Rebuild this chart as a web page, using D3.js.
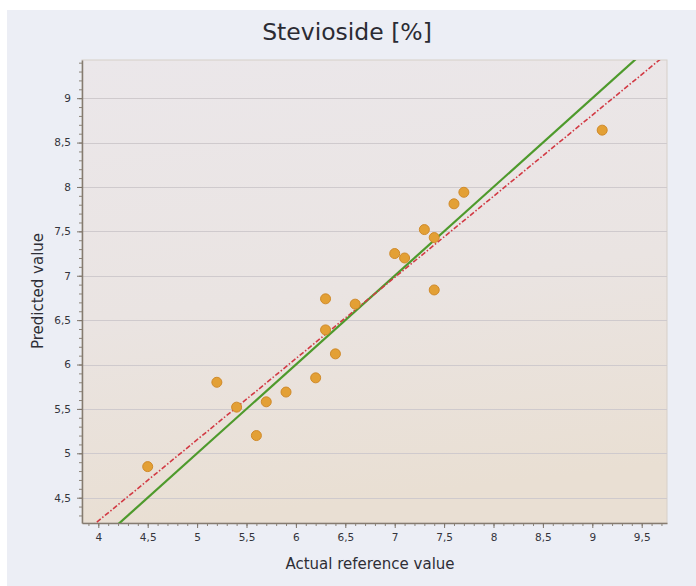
<!DOCTYPE html>
<html>
<head>
<meta charset="utf-8">
<script src="https://cdn.jsdelivr.net/npm/d3@7"></script>
<style>
  html, body { margin: 0; padding: 0; background: #ffffff; }
  svg { display: block; }
</style>
</head>
<body>
<script>
// Reference (actual) vs. predicted stevioside content, one entry per sample
const actualValues    = [4.5, 5.2, 5.4, 5.6, 5.7, 5.9, 6.2, 6.3, 6.3, 6.4, 6.6, 7.0, 7.1, 7.3, 7.4, 7.4, 7.6, 7.7, 9.1];
const predictedValues = [4.85, 5.8, 5.52, 5.2, 5.58, 5.69, 5.85, 6.39, 6.74, 6.12, 6.68, 7.25, 7.2, 7.52, 7.43, 6.84, 7.81, 7.94, 8.64];

// Axis ranges and tick marks
const xDomain = [3.835, 9.756];
const yDomain = [4.215, 9.43];
const xTicks = [4, 4.5, 5, 5.5, 6, 6.5, 7, 7.5, 8, 8.5, 9, 9.5];
const yTicks = [4.5, 5, 5.5, 6, 6.5, 7, 7.5, 8, 8.5, 9];
const decimalComma = v => String(v).replace(".", ",");

const chartTitle = "Stevioside [%]";
const xTitle = "Actual reference value";
const yTitle = "Predicted value";

const W = 696, H = 586;
const plot = { left: 82, right: 667, top: 60, bottom: 523 };

const svg = d3.select("body").append("svg")
  .attr("width", W).attr("height", H)
  .style("font-family", "'DejaVu Sans', Verdana, sans-serif");

// Page background
svg.append("rect").attr("x", 0).attr("y", 0).attr("width", W).attr("height", H).attr("fill", "#ffffff");
svg.append("rect").attr("x", 7).attr("y", 10).attr("width", W - 7).attr("height", H - 10).attr("fill", "#eceef5");

const defs = svg.append("defs");
const grad = defs.append("linearGradient").attr("id", "plotBg")
  .attr("x1", 0).attr("y1", 0).attr("x2", 0.15).attr("y2", 1);
grad.append("stop").attr("offset", "0%").attr("stop-color", "#ebe7ea");
grad.append("stop").attr("offset", "55%").attr("stop-color", "#eae4e2");
grad.append("stop").attr("offset", "100%").attr("stop-color", "#e9dfd3");

const clip = defs.append("clipPath").attr("id", "plotClip");
clip.append("rect").attr("x", plot.left).attr("y", plot.top)
  .attr("width", plot.right - plot.left).attr("height", plot.bottom - plot.top);

const x = d3.scaleLinear().domain(xDomain).range([plot.left, plot.right]);
const y = d3.scaleLinear().domain(yDomain).range([plot.bottom, plot.top]);

// Plot area
svg.append("rect")
  .attr("x", plot.left).attr("y", plot.top)
  .attr("width", plot.right - plot.left).attr("height", plot.bottom - plot.top)
  .attr("fill", "url(#plotBg)")
  .attr("stroke", "#d6cfc8").attr("stroke-width", 1);

// Horizontal gridlines
svg.append("g").selectAll("line").data(yTicks).join("line")
  .attr("x1", plot.left).attr("x2", plot.right)
  .attr("y1", d => Math.round(y(d)) + 0.5).attr("y2", d => Math.round(y(d)) + 0.5)
  .attr("stroke", "#cfcacd").attr("stroke-width", 1);

// Minor ticks every 0.1
const xMinor = d3.range(38, 98).map(i => i / 10).filter(v => v >= xDomain[0] && v <= xDomain[1]);
const yMinor = d3.range(43, 95).map(i => i / 10).filter(v => v >= yDomain[0] && v <= yDomain[1]);

const xAxis = d3.axisBottom(x).tickValues(xTicks).tickFormat(decimalComma).tickSize(5).tickPadding(6);
const yAxis = d3.axisLeft(y).tickValues(yTicks).tickFormat(decimalComma).tickSize(5).tickPadding(6);

const gxMinor = svg.append("g").attr("transform", `translate(0,${plot.bottom})`)
  .call(d3.axisBottom(x).tickValues(xMinor).tickFormat("").tickSize(3).tickSizeOuter(0));
const gyMinor = svg.append("g").attr("transform", `translate(${plot.left},0)`)
  .call(d3.axisLeft(y).tickValues(yMinor).tickFormat("").tickSize(3).tickSizeOuter(0));
[gxMinor, gyMinor].forEach(g => {
  g.select(".domain").remove();
  g.selectAll("line").attr("stroke", "#8c8479");
});

const gx = svg.append("g").attr("transform", `translate(0,${plot.bottom})`).call(xAxis.tickSizeOuter(0));
const gy = svg.append("g").attr("transform", `translate(${plot.left},0)`).call(yAxis.tickSizeOuter(0));
[gx, gy].forEach(g => {
  g.select(".domain").attr("stroke", "#857b70").attr("stroke-width", 1.5);
  g.selectAll(".tick line").attr("stroke", "#7d746a");
  g.selectAll(".tick text")
    .attr("fill", "#34343c")
    .style("font-size", "10.5px")
    .style("font-family", "'DejaVu Sans', Verdana, sans-serif");
});

// Lines: target (y = x) and least-squares fit of predicted on actual
const meanX = d3.mean(actualValues), meanY = d3.mean(predictedValues);
const sxy = d3.sum(actualValues, (v, i) => (v - meanX) * (predictedValues[i] - meanY));
const sxx = d3.sum(actualValues, v => (v - meanX) ** 2);
const slope = sxy / sxx;
const intercept = meanY - slope * meanX;

const lineGen = d3.line().x(d => x(d[0])).y(d => y(d[1]));
const lines = svg.append("g").attr("clip-path", "url(#plotClip)");

lines.append("path")
  .datum([[3, 3], [10, 10]])
  .attr("d", lineGen)
  .attr("fill", "none")
  .attr("stroke", "#4e9a2c")
  .attr("stroke-width", 2.2);

lines.append("path")
  .datum([[3, intercept + slope * 3], [10.5, intercept + slope * 10.5]])
  .attr("d", lineGen)
  .attr("fill", "none")
  .attr("stroke", "#d23a44")
  .attr("stroke-width", 1.6)
  .attr("stroke-dasharray", "5,2,1.5,2");

// Sample points
svg.append("g").selectAll("circle")
  .data(actualValues.map((v, i) => [v, predictedValues[i]]))
  .join("circle")
  .attr("cx", d => x(d[0]))
  .attr("cy", d => y(d[1]))
  .attr("r", 5)
  .attr("fill", "#e3a035")
  .attr("stroke", "#d08a2a")
  .attr("stroke-width", 1);

// Titles
svg.append("text")
  .attr("x", 347).attr("y", 40)
  .attr("text-anchor", "middle")
  .attr("fill", "#2b2b33")
  .style("font-size", "23.5px")
  .text(chartTitle);

svg.append("text")
  .attr("x", 370).attr("y", 569)
  .attr("text-anchor", "middle")
  .attr("fill", "#2e2e36")
  .style("font-size", "15px")
  .text(xTitle);

svg.append("text")
  .attr("transform", `translate(43,291) rotate(-90)`)
  .attr("text-anchor", "middle")
  .attr("fill", "#2e2e36")
  .style("font-size", "15px")
  .text(yTitle);
</script>
</body>
</html>
